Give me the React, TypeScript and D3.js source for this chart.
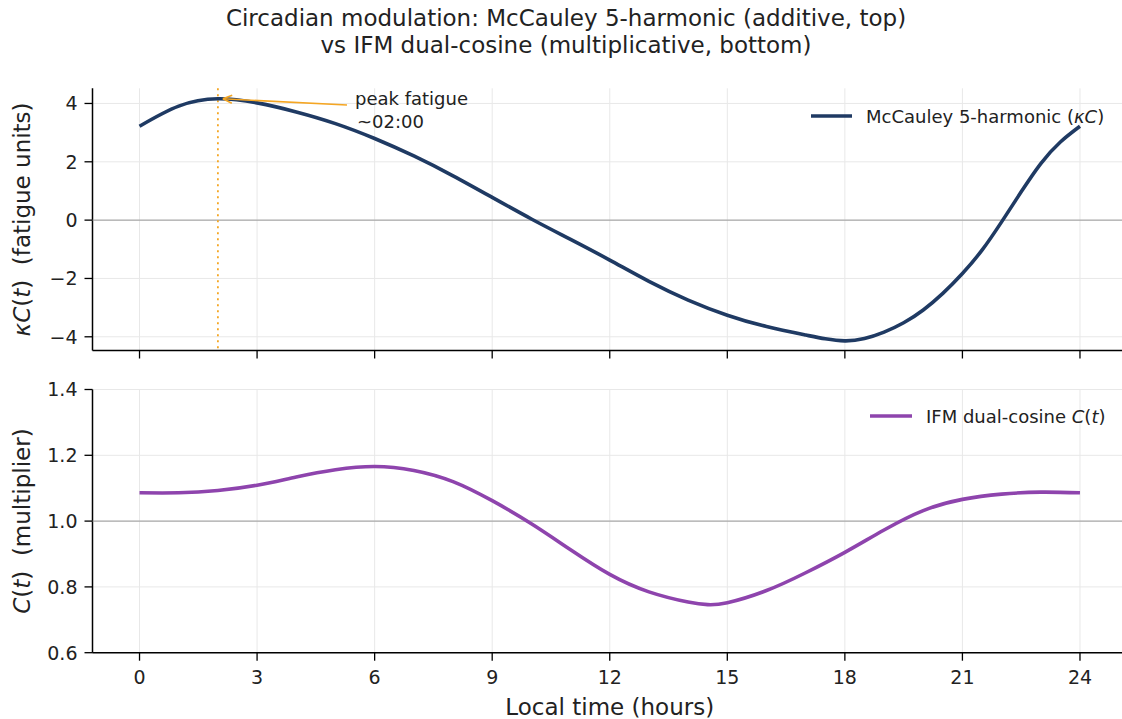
import React from "react";
import * as d3 from "d3";

const hoursTop = [0, 1, 2, 3, 4, 5, 6, 7, 8, 9, 10, 11, 12, 13, 14, 15, 16, 17, 17.5, 18, 18.5, 19, 19.5, 20, 20.5, 21, 21.5, 22, 22.5, 23, 23.5, 24];
const mccauley = [3.22, 3.91, 4.16, 4.02, 3.71, 3.31, 2.8, 2.2, 1.52, 0.78, 0.04, -0.66, -1.37, -2.1, -2.74, -3.26, -3.65, -3.94, -4.07, -4.14, -4.06, -3.84, -3.52, -3.08, -2.51, -1.83, -1.03, -0.06, 0.97, 1.94, 2.68, 3.22];

const hoursBottom = [0, 1, 2, 3, 4, 5, 6, 7, 8, 9, 10, 11, 12, 13, 14, 14.5, 15, 16, 17, 18, 19, 20, 21, 22, 23, 24];
const ifm = [1.086, 1.086, 1.093, 1.109, 1.134, 1.156, 1.166, 1.154, 1.12, 1.062, 0.992, 0.913, 0.838, 0.785, 0.754, 0.746, 0.752, 0.789, 0.843, 0.905, 0.973, 1.032, 1.066, 1.082, 1.088, 1.086];

const xTicks = [0, 3, 6, 9, 12, 15, 18, 21, 24];
const yTicksTop = [-4, -2, 0, 2, 4];
const yTicksBottom = [0.6, 0.8, 1.0, 1.2, 1.4];
const peakHour = 2;
const peakValue = 4.16;

const FONT = "DejaVu Sans, sans-serif";
const NAVY = "#1f3a63";
const PURPLE = "#8e44ad";
const ORANGE = "#f5a623";
const GRID = "#e8e8e8";

export default function App() {
  const left = 92.5;
  const right = 1127;
  const x = d3.scaleLinear().domain([-1.2, 25.2]).range([left, right]);
  const topY0 = 88.3, topY1 = 350.5;
  const botY0 = 389.5, botY1 = 652.7;
  const yTop = d3.scaleLinear().domain([-4.47, 4.52]).range([topY1, topY0]);
  const yBot = d3.scaleLinear().domain([0.6, 1.4]).range([botY1, botY0]);

  const lineTop = d3
    .line<number>()
    .x((_, i) => x(hoursTop[i]))
    .y((d) => yTop(d))
    .curve(d3.curveNatural);
  const lineBot = d3
    .line<number>()
    .x((_, i) => x(hoursBottom[i]))
    .y((d) => yBot(d))
    .curve(d3.curveNatural);

  const tickFs = 19;
  const px = x(peakHour);
  const py = yTop(peakValue);
  const ax0 = 347, ay0 = 105;
  const hx = px + 5, hy = py;
  const ang = Math.atan2(ay0 - hy, ax0 - hx);
  const hl = 10, ha = 0.42;

  const panel = (y: d3.ScaleLinear<number, number>, ticks: number[], y0: number, y1: number, fmt: (v: number) => string, showX: boolean) => (
    <g>
      {xTicks.map((t) => (
        <line key={"gx" + t} x1={x(t)} x2={x(t)} y1={y0} y2={y1} stroke={GRID} strokeWidth={1} />
      ))}
      {ticks.map((t) => (
        <line key={"gy" + t} x1={left} x2={right} y1={y(t)} y2={y(t)} stroke={GRID} strokeWidth={1} />
      ))}
      <line x1={left} x2={left} y1={y0} y2={y1} stroke="#000" strokeWidth={1.5} />
      <line x1={left} x2={right} y1={y1} y2={y1} stroke="#000" strokeWidth={1.5} />
      {ticks.map((t) => (
        <g key={"ty" + t}>
          <line x1={left - 8} x2={left} y1={y(t)} y2={y(t)} stroke="#000" strokeWidth={1.3} />
          <text x={left - 15} y={y(t)} dy="0.36em" textAnchor="end" fontSize={tickFs} fontFamily={FONT} fill="#222">
            {fmt(t)}
          </text>
        </g>
      ))}
      {xTicks.map((t) => (
        <g key={"tx" + t}>
          <line x1={x(t)} x2={x(t)} y1={y1} y2={y1 + 8} stroke="#000" strokeWidth={1.3} />
          {showX && (
            <text x={x(t)} y={y1 + 31} textAnchor="middle" fontSize={tickFs} fontFamily={FONT} fill="#222">
              {t}
            </text>
          )}
        </g>
      ))}
    </g>
  );

  return (
    <svg width={1122} height={719} style={{ position: "absolute", left: 0, top: 0, background: "#fff" }}>
      <rect width={1122} height={719} fill="#fff" />
      <text x={566} y={26} textAnchor="middle" fontSize={23} fontFamily={FONT} fill="#222">
        Circadian modulation: McCauley 5-harmonic (additive, top)
      </text>
      <text x={566} y={52.5} textAnchor="middle" fontSize={23} fontFamily={FONT} fill="#222">
        vs IFM dual-cosine (multiplicative, bottom)
      </text>

      {/* top panel */}
      {panel(yTop, yTicksTop, topY0, topY1, (v) => (v < 0 ? "\u2212" + Math.abs(v) : String(v)), false)}
      <line x1={left} x2={right} y1={yTop(0)} y2={yTop(0)} stroke="#999" strokeWidth={1} />
      <line x1={px} x2={px} y1={topY0} y2={topY1} stroke={ORANGE} strokeWidth={1.8} strokeDasharray="2,4" />
      <path d={lineTop(mccauley) || ""} fill="none" stroke={NAVY} strokeWidth={3.6} strokeLinejoin="round" strokeLinecap="butt" />
      <line x1={ax0} y1={ay0} x2={hx} y2={hy} stroke={ORANGE} strokeWidth={1.6} />
      <line x1={hx} y1={hy} x2={hx + hl * Math.cos(ang + ha)} y2={hy + hl * Math.sin(ang + ha)} stroke={ORANGE} strokeWidth={1.6} />
      <line x1={hx} y1={hy} x2={hx + hl * Math.cos(ang - ha)} y2={hy + hl * Math.sin(ang - ha)} stroke={ORANGE} strokeWidth={1.6} />
      <text x={355} y={105} fontSize={18} fontFamily={FONT} fill="#222">peak fatigue</text>
      <text x={357} y={128} fontSize={18} fontFamily={FONT} fill="#222">~02:00</text>
      <line x1={811} x2={852} y1={116} y2={116} stroke={NAVY} strokeWidth={3.6} />
      <text x={866} y={122.5} fontSize={18} fontFamily={FONT} fill="#222">
        McCauley 5-harmonic (<tspan fontStyle="italic">κC</tspan>)
      </text>
      <text
        transform={`translate(30,${(topY0 + topY1) / 2}) rotate(-90)`}
        textAnchor="middle"
        fontSize={23}
        fontFamily={FONT}
        fill="#222"
        style={{ whiteSpace: "pre" }}
      >
        <tspan fontStyle="italic">κC</tspan>(<tspan fontStyle="italic">t</tspan>)  (fatigue units)
      </text>

      {/* bottom panel */}
      {panel(yBot, yTicksBottom, botY0, botY1, (v) => v.toFixed(1), true)}
      <line x1={left} x2={right} y1={yBot(1)} y2={yBot(1)} stroke="#999" strokeWidth={1} />
      <path d={lineBot(ifm) || ""} fill="none" stroke={PURPLE} strokeWidth={3.6} strokeLinejoin="round" />
      <line x1={870} x2={912} y1={416} y2={416} stroke={PURPLE} strokeWidth={3.6} />
      <text x={926} y={422.5} fontSize={18} fontFamily={FONT} fill="#222">
        IFM dual-cosine <tspan fontStyle="italic">C</tspan>(<tspan fontStyle="italic">t</tspan>)
      </text>
      <text
        transform={`translate(30,${(botY0 + botY1) / 2}) rotate(-90)`}
        textAnchor="middle"
        fontSize={23}
        fontFamily={FONT}
        fill="#222"
        style={{ whiteSpace: "pre" }}
      >
        <tspan fontStyle="italic">C</tspan>(<tspan fontStyle="italic">t</tspan>)  (multiplier)
      </text>
      <text x={(left + right) / 2} y={715} textAnchor="middle" fontSize={23} fontFamily={FONT} fill="#222">
        Local time (hours)
      </text>
    </svg>
  );
}
